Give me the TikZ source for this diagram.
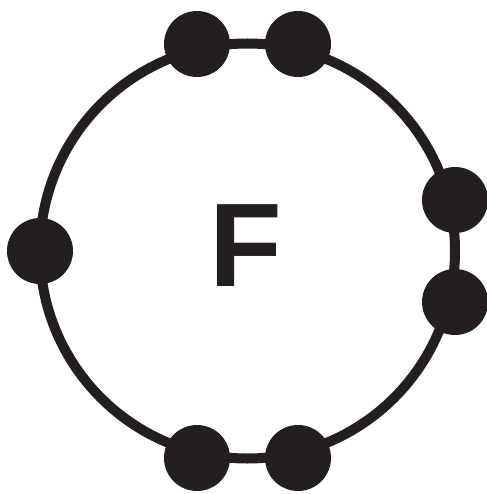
\documentclass[tikz,border=0pt]{standalone}
\usepackage{fontspec}
\setmainfont{Liberation Sans}
\definecolor{ink}{HTML}{231F20}
\begin{document}
\begin{tikzpicture}[x=1pt,y=-1pt,
  ring/.style={draw=ink,line width=10pt},
  electron/.style={circle,fill=ink,minimum size=66pt,inner sep=0pt}]
\useasboundingbox (0,0) rectangle (486,494);
\node[circle,ring,minimum size=415pt,inner sep=0pt] (shell) at (247.5,251) {};
\node[inner sep=0pt,text=ink,font=\fontsize{119}{119}\selectfont\bfseries] (atom) at (246,245.5) {F};
\node[electron] (e1) at (197,44) {};
\node[electron] (e2) at (298,44) {};
\node[electron] (e3) at (455,200) {};
\node[electron] (e4) at (455,302) {};
\node[electron] (e5) at (298,458) {};
\node[electron] (e6) at (197,458) {};
\node[electron] (e7) at (40,251) {};
\end{tikzpicture}
\end{document}
